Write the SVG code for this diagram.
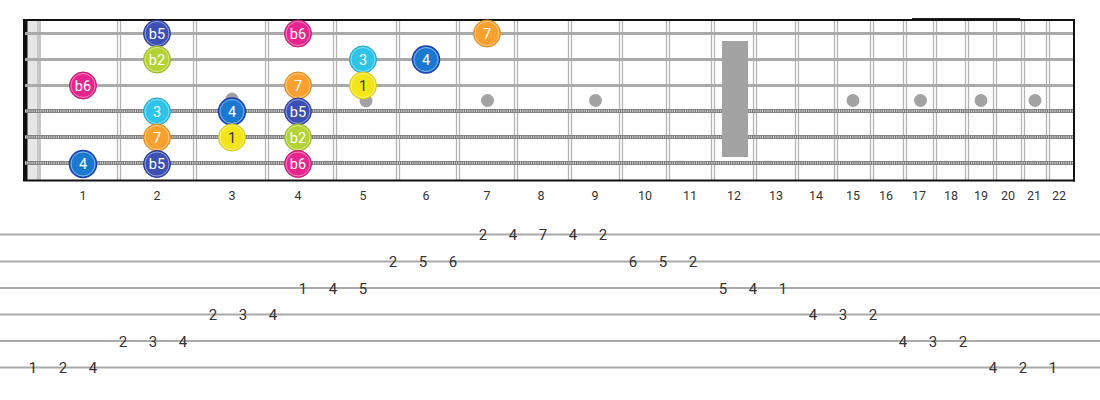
<svg xmlns="http://www.w3.org/2000/svg" width="1100" height="400" viewBox="0 0 1100 400">
<style>
.fret{stroke:#b4b4b4;stroke-width:1.3;fill:none}
.plain{stroke:#aaaaaa;stroke-width:3}
.woundBase{stroke:#7a7a7a;stroke-width:4}
.woundTex{stroke:#d2d2d2;stroke-width:2.4;stroke-dasharray:1 1.2}
.dot{fill:#a3a3a3}
.border{stroke:#111;stroke-width:2;fill:none}
.fnum{font-family:Roboto,"Liberation Sans",sans-serif;font-size:12.5px;fill:#333;text-anchor:middle}
.tabline{stroke:#aaaaaa;stroke-width:2}
.tab{font-family:Roboto,"Liberation Sans",sans-serif;font-size:15px;fill:#333;text-anchor:middle}
.nt circle.o{stroke-width:1}
.nt circle.i{fill:none;stroke:#ffffff;stroke-opacity:0.45;stroke-width:1}
.nt text{font-family:Roboto,"Liberation Sans",sans-serif;font-size:14.5px;fill:#fff;text-anchor:middle}
.b5 circle.o{fill:#3c50b4;stroke:#2a3a9a}
.b6 circle.o{fill:#e8248e;stroke:#c21a74}
.b2 circle.o{fill:#b3d334;stroke:#96b622}
.n3 circle.o{fill:#2ec3e9;stroke:#18a6cc}
.n7 circle.o{fill:#f8a12f;stroke:#e08818}
.n1 circle.o{fill:#f3e51c;stroke:#d4c60c}
.n1 text{fill:#333}
.n4 circle.o{fill:#1a78cf;stroke:#1d3fb4;stroke-width:1.5}
</style>
<rect width="1100" height="400" fill="#fff"/>
<g id="fretboard">
  <rect x="27" y="20" width="10" height="160" fill="#e6e6e6"/>
  <rect x="37" y="20" width="4" height="160" fill="#c8c8c8"/>
  <rect x="23" y="19" width="4.5" height="162" fill="#111"/>
  <g id="frets">
    <line class="fret" x1="117.5" y1="20" x2="117.5" y2="180"/><line class="fret" x1="120.5" y1="20" x2="120.5" y2="180"/>
    <line class="fret" x1="193.5" y1="20" x2="193.5" y2="180"/><line class="fret" x1="196.5" y1="20" x2="196.5" y2="180"/>
    <line class="fret" x1="265.5" y1="20" x2="265.5" y2="180"/><line class="fret" x1="268.5" y1="20" x2="268.5" y2="180"/>
    <line class="fret" x1="333.5" y1="20" x2="333.5" y2="180"/><line class="fret" x1="336.5" y1="20" x2="336.5" y2="180"/>
    <line class="fret" x1="396.5" y1="20" x2="396.5" y2="180"/><line class="fret" x1="399.5" y1="20" x2="399.5" y2="180"/>
    <line class="fret" x1="456.5" y1="20" x2="456.5" y2="180"/><line class="fret" x1="459.5" y1="20" x2="459.5" y2="180"/>
    <line class="fret" x1="514.5" y1="20" x2="514.5" y2="180"/><line class="fret" x1="517.5" y1="20" x2="517.5" y2="180"/>
    <line class="fret" x1="568.5" y1="20" x2="568.5" y2="180"/><line class="fret" x1="571.5" y1="20" x2="571.5" y2="180"/>
    <line class="fret" x1="619.5" y1="20" x2="619.5" y2="180"/><line class="fret" x1="622.5" y1="20" x2="622.5" y2="180"/>
    <line class="fret" x1="666.5" y1="20" x2="666.5" y2="180"/><line class="fret" x1="669.5" y1="20" x2="669.5" y2="180"/>
    <line class="fret" x1="711.5" y1="20" x2="711.5" y2="180"/><line class="fret" x1="714.5" y1="20" x2="714.5" y2="180"/>
    <line class="fret" x1="753.5" y1="20" x2="753.5" y2="180"/><line class="fret" x1="756.5" y1="20" x2="756.5" y2="180"/>
    <line class="fret" x1="795.5" y1="20" x2="795.5" y2="180"/><line class="fret" x1="798.5" y1="20" x2="798.5" y2="180"/>
    <line class="fret" x1="834.5" y1="20" x2="834.5" y2="180"/><line class="fret" x1="837.5" y1="20" x2="837.5" y2="180"/>
    <line class="fret" x1="870.5" y1="20" x2="870.5" y2="180"/><line class="fret" x1="873.5" y1="20" x2="873.5" y2="180"/>
    <line class="fret" x1="903.5" y1="20" x2="903.5" y2="180"/><line class="fret" x1="906.5" y1="20" x2="906.5" y2="180"/>
    <line class="fret" x1="933.5" y1="20" x2="933.5" y2="180"/><line class="fret" x1="936.5" y1="20" x2="936.5" y2="180"/>
    <line class="fret" x1="965.5" y1="20" x2="965.5" y2="180"/><line class="fret" x1="968.5" y1="20" x2="968.5" y2="180"/>
    <line class="fret" x1="993.5" y1="20" x2="993.5" y2="180"/><line class="fret" x1="996.5" y1="20" x2="996.5" y2="180"/>
    <line class="fret" x1="1021.5" y1="20" x2="1021.5" y2="180"/><line class="fret" x1="1024.5" y1="20" x2="1024.5" y2="180"/>
    <line class="fret" x1="1046.5" y1="20" x2="1046.5" y2="180"/><line class="fret" x1="1049.5" y1="20" x2="1049.5" y2="180"/>
  </g>
  <g id="inlays">
    <circle class="dot" cx="232" cy="99" r="6.5"/>
    <circle class="dot" cx="366" cy="101" r="6.5"/>
    <circle class="dot" cx="487.5" cy="100.5" r="6.5"/>
    <circle class="dot" cx="595.5" cy="100.5" r="6.5"/>
    <circle class="dot" cx="853" cy="100.5" r="6.5"/>
    <circle class="dot" cx="920.5" cy="100.5" r="6.5"/>
    <circle class="dot" cx="981" cy="100.5" r="6.5"/>
    <circle class="dot" cx="1035" cy="100.5" r="6.5"/>
  </g>
  <g id="strings">
    <line class="plain" x1="25" y1="33.5" x2="1073" y2="33.5"/>
    <line class="plain" x1="25" y1="59.5" x2="1073" y2="59.5"/>
    <line class="plain" x1="25" y1="85.5" x2="1073" y2="85.5"/>
    <line class="woundBase" x1="25" y1="111" x2="1073" y2="111"/>
    <line class="woundTex" x1="25" y1="111" x2="1073" y2="111"/>
    <line class="woundBase" x1="25" y1="137" x2="1073" y2="137"/>
    <line class="woundTex" x1="25" y1="137" x2="1073" y2="137"/>
    <line class="woundBase" x1="25" y1="163" x2="1073" y2="163"/>
    <line class="woundTex" x1="25" y1="163" x2="1073" y2="163"/>
  </g>
  <rect x="722" y="41" width="26" height="116" fill="#a3a3a3"/>
  <line class="border" x1="23" y1="20" x2="1075" y2="20"/>
  <line class="border" x1="23" y1="180.5" x2="1075" y2="180.5"/>
  <line class="border" x1="1074" y1="19" x2="1074" y2="181.5"/>
  <line x1="912" y1="18.5" x2="1020" y2="18.5" stroke="#222" stroke-width="1"/>
</g>
<g id="fret-numbers">
  <text class="fnum" x="83" y="200">1</text>
  <text class="fnum" x="157" y="200">2</text>
  <text class="fnum" x="232" y="200">3</text>
  <text class="fnum" x="298" y="200">4</text>
  <text class="fnum" x="363" y="200">5</text>
  <text class="fnum" x="426" y="200">6</text>
  <text class="fnum" x="487" y="200">7</text>
  <text class="fnum" x="541" y="200">8</text>
  <text class="fnum" x="595" y="200">9</text>
  <text class="fnum" x="645" y="200">10</text>
  <text class="fnum" x="690" y="200">11</text>
  <text class="fnum" x="734" y="200">12</text>
  <text class="fnum" x="776" y="200">13</text>
  <text class="fnum" x="816" y="200">14</text>
  <text class="fnum" x="853" y="200">15</text>
  <text class="fnum" x="886" y="200">16</text>
  <text class="fnum" x="919" y="200">17</text>
  <text class="fnum" x="951" y="200">18</text>
  <text class="fnum" x="981" y="200">19</text>
  <text class="fnum" x="1008" y="200">20</text>
  <text class="fnum" x="1034" y="200">21</text>
  <text class="fnum" x="1059" y="200">22</text>
</g>
<g id="notes">
  <g id="n-s1-f2" class="nt b5"><circle class="o" cx="157" cy="33.5" r="13.5"/><circle class="i" cx="157" cy="33.5" r="12"/><text x="157" y="38.5">b5</text></g>
  <g id="n-s1-f4" class="nt b6"><circle class="o" cx="298" cy="33.5" r="13.5"/><circle class="i" cx="298" cy="33.5" r="12"/><text x="298" y="38.5">b6</text></g>
  <g id="n-s1-f7" class="nt n7"><circle class="o" cx="487" cy="33.5" r="13.5"/><circle class="i" cx="487" cy="33.5" r="12"/><text x="487" y="38.5">7</text></g>
  <g id="n-s2-f2" class="nt b2"><circle class="o" cx="157" cy="59.5" r="13.5"/><circle class="i" cx="157" cy="59.5" r="12"/><text x="157" y="64.5">b2</text></g>
  <g id="n-s2-f5" class="nt n3"><circle class="o" cx="363" cy="59.5" r="13.5"/><circle class="i" cx="363" cy="59.5" r="12"/><text x="363" y="64.5">3</text></g>
  <g id="n-s2-f6" class="nt n4"><circle class="o" cx="426" cy="59.5" r="13.5"/><circle class="i" cx="426" cy="59.5" r="12"/><text x="426" y="64.5">4</text></g>
  <g id="n-s3-f1" class="nt b6"><circle class="o" cx="83" cy="85.5" r="13.5"/><circle class="i" cx="83" cy="85.5" r="12"/><text x="83" y="90.5">b6</text></g>
  <g id="n-s3-f4" class="nt n7"><circle class="o" cx="298" cy="85.5" r="13.5"/><circle class="i" cx="298" cy="85.5" r="12"/><text x="298" y="90.5">7</text></g>
  <g id="n-s3-f5" class="nt n1"><circle class="o" cx="363" cy="85.5" r="13.5"/><circle class="i" cx="363" cy="85.5" r="12"/><text x="363" y="90.5">1</text></g>
  <g id="n-s4-f2" class="nt n3"><circle class="o" cx="157" cy="111.5" r="13.5"/><circle class="i" cx="157" cy="111.5" r="12"/><text x="157" y="116.5">3</text></g>
  <g id="n-s4-f3" class="nt n4"><circle class="o" cx="232" cy="111.5" r="13.5"/><circle class="i" cx="232" cy="111.5" r="12"/><text x="232" y="116.5">4</text></g>
  <g id="n-s4-f4" class="nt b5"><circle class="o" cx="298" cy="111.5" r="13.5"/><circle class="i" cx="298" cy="111.5" r="12"/><text x="298" y="116.5">b5</text></g>
  <g id="n-s5-f2" class="nt n7"><circle class="o" cx="157" cy="137.5" r="13.5"/><circle class="i" cx="157" cy="137.5" r="12"/><text x="157" y="142.5">7</text></g>
  <g id="n-s5-f3" class="nt n1"><circle class="o" cx="232" cy="137.5" r="13.5"/><circle class="i" cx="232" cy="137.5" r="12"/><text x="232" y="142.5">1</text></g>
  <g id="n-s5-f4" class="nt b2"><circle class="o" cx="298" cy="137.5" r="13.5"/><circle class="i" cx="298" cy="137.5" r="12"/><text x="298" y="142.5">b2</text></g>
  <g id="n-s6-f1" class="nt n4"><circle class="o" cx="83" cy="164" r="13.5"/><circle class="i" cx="83" cy="164" r="12"/><text x="83" y="169">4</text></g>
  <g id="n-s6-f2" class="nt b5"><circle class="o" cx="157" cy="164" r="13.5"/><circle class="i" cx="157" cy="164" r="12"/><text x="157" y="169">b5</text></g>
  <g id="n-s6-f4" class="nt b6"><circle class="o" cx="298" cy="164" r="13.5"/><circle class="i" cx="298" cy="164" r="12"/><text x="298" y="169">b6</text></g>
</g>
<g id="connectors"></g>
<g id="tab">
  <line class="tabline" x1="0" y1="234.5" x2="1100" y2="234.5"/>
  <line class="tabline" x1="0" y1="261.5" x2="1100" y2="261.5"/>
  <line class="tabline" x1="0" y1="288" x2="1100" y2="288"/>
  <line class="tabline" x1="0" y1="314.5" x2="1100" y2="314.5"/>
  <line class="tabline" x1="0" y1="341" x2="1100" y2="341"/>
  <line class="tabline" x1="0" y1="367.5" x2="1100" y2="367.5"/>
  <text class="tab" x="33" y="373">1</text><text class="tab" x="63" y="373">2</text><text class="tab" x="93" y="373">4</text>
  <text class="tab" x="123" y="346.5">2</text><text class="tab" x="153" y="346.5">3</text><text class="tab" x="183" y="346.5">4</text>
  <text class="tab" x="213" y="320">2</text><text class="tab" x="243" y="320">3</text><text class="tab" x="273" y="320">4</text>
  <text class="tab" x="303" y="293.5">1</text><text class="tab" x="333" y="293.5">4</text><text class="tab" x="363" y="293.5">5</text>
  <text class="tab" x="393" y="267">2</text><text class="tab" x="423" y="267">5</text><text class="tab" x="453" y="267">6</text>
  <text class="tab" x="483" y="240">2</text><text class="tab" x="513" y="240">4</text><text class="tab" x="543" y="240">7</text><text class="tab" x="573" y="240">4</text><text class="tab" x="603" y="240">2</text>
  <text class="tab" x="633" y="267">6</text><text class="tab" x="663" y="267">5</text><text class="tab" x="693" y="267">2</text>
  <text class="tab" x="723" y="293.5">5</text><text class="tab" x="753" y="293.5">4</text><text class="tab" x="783" y="293.5">1</text>
  <text class="tab" x="813" y="320">4</text><text class="tab" x="843" y="320">3</text><text class="tab" x="873" y="320">2</text>
  <text class="tab" x="903" y="346.5">4</text><text class="tab" x="933" y="346.5">3</text><text class="tab" x="963" y="346.5">2</text>
  <text class="tab" x="993" y="373">4</text><text class="tab" x="1023" y="373">2</text><text class="tab" x="1053" y="373">1</text>
</g>
</svg>
